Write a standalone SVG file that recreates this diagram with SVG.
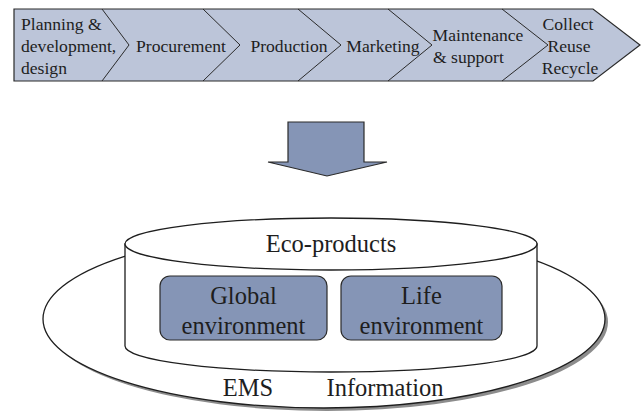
<svg xmlns="http://www.w3.org/2000/svg" width="643" height="416" viewBox="0 0 643 416">
  <style>
    .band { fill: #bcc5d9; stroke: #2a2a2a; stroke-width: 1.2; }
    .sep { fill: none; stroke: #2a2a2a; stroke-width: 1; }
    .box { fill: #8595b6; stroke: #2a2a2a; stroke-width: 1.2; }
    .outline { fill: #ffffff; stroke: #1e1e1e; stroke-width: 1.3; }
  </style>

  <!-- process chain band -->
  <g id="process-chain">
    <path class="band" d="M14,9 L593,9 L640,45 L593,81 L14,81 Z"/>
    <path class="sep" d="M102,9 L129,45 L102,81"/>
    <path class="sep" d="M203,9 L240,45 L203,81"/>
    <path class="sep" d="M298,9 L341,45 L298,81"/>
    <path class="sep" d="M388,9 L432,45 L388,81"/>
    <path class="sep" d="M502,9 L548,45 L502,81"/>
  </g>
  <g font-family="Liberation Serif, serif" font-size="17.6" fill="#1e1e1e">
    <g id="stage-planning">
      <text x="21" y="30">Planning &amp;</text>
      <text x="21" y="52">development,</text>
      <text x="21" y="74">design</text>
    </g>
    <g id="stage-procurement">
      <text x="181" y="52" text-anchor="middle">Procurement</text>
    </g>
    <g id="stage-production">
      <text x="289" y="52" text-anchor="middle">Production</text>
    </g>
    <g id="stage-marketing">
      <text x="383" y="52" text-anchor="middle">Marketing</text>
    </g>
    <g id="stage-maintenance">
      <text x="478" y="41" text-anchor="middle">Maintenance</text>
      <text x="433" y="63">&amp; support</text>
    </g>
    <g id="stage-recycle">
      <text x="568" y="30" text-anchor="middle">Collect</text>
      <text x="569" y="52" text-anchor="middle">Reuse</text>
      <text x="570" y="74" text-anchor="middle">Recycle</text>
    </g>
  </g>

  <!-- block arrow down -->
  <g id="connectors">
    <path class="box" d="M288,122 L364,122 L364,162 L387,162 L327,176 L268,162 L288,162 Z"/>
  </g>

  <g font-family="Liberation Serif, serif" font-size="24.5" fill="#1e1e1e">
    <!-- base platform with drop shadow -->
    <g id="platform">
      <ellipse cx="327" cy="322" rx="281" ry="89" fill="#8c8c8c"/>
      <ellipse class="outline" cx="324" cy="319" rx="281" ry="89"/>
      <text x="248" y="396" text-anchor="middle">EMS</text>
      <text x="385" y="396" text-anchor="middle">Information</text>
    </g>

    <!-- eco-products cylinder -->
    <g id="eco-products">
      <path class="outline" d="M125,244 L125,346 A206,26 0 0 0 537,346 L537,244 Z"/>
      <ellipse class="outline" cx="331" cy="244" rx="206" ry="26"/>
      <text x="331" y="252" text-anchor="middle">Eco-products</text>
    </g>

    <g id="global-environment">
      <rect class="box" x="160" y="276" width="167" height="64" rx="10" ry="10"/>
      <text x="243.5" y="304" text-anchor="middle">Global</text>
      <text x="243.5" y="334" text-anchor="middle">environment</text>
    </g>

    <g id="life-environment">
      <rect class="box" x="341" y="276" width="161" height="64" rx="10" ry="10"/>
      <text x="421.5" y="304" text-anchor="middle">Life</text>
      <text x="421.5" y="334" text-anchor="middle">environment</text>
    </g>
  </g>
</svg>
